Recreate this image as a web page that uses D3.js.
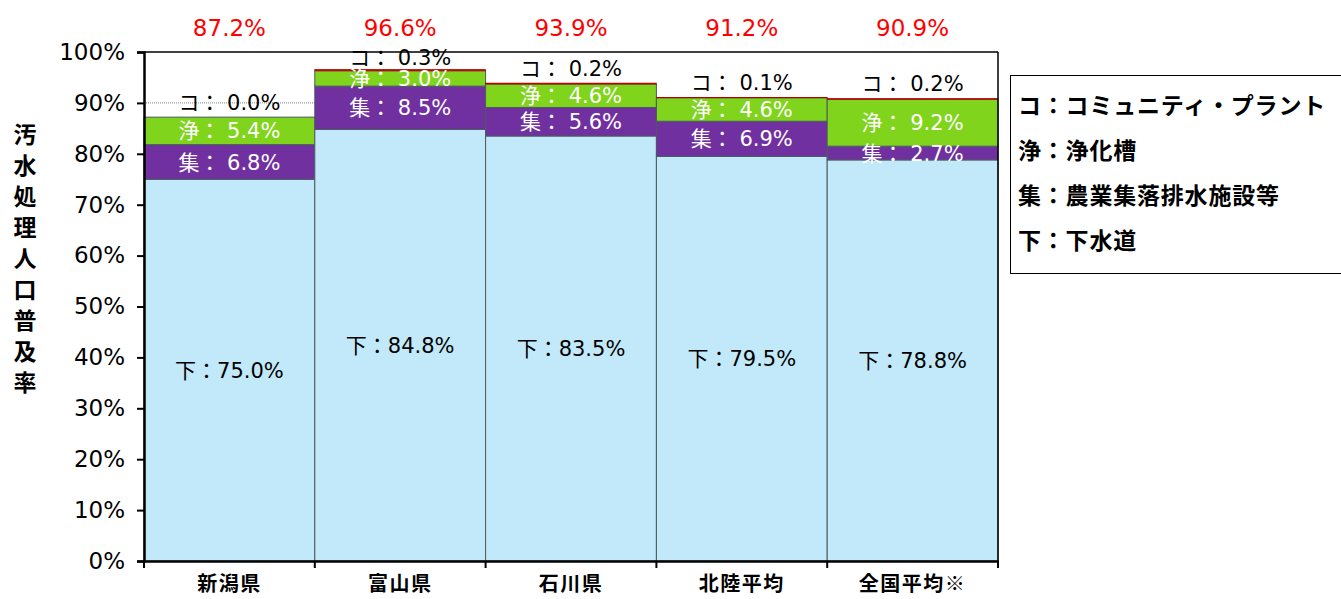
<!DOCTYPE html>
<html><head><meta charset="utf-8">
<script src="https://cdn.jsdelivr.net/npm/d3@7"></script>
<style>
html,body{margin:0;padding:0;background:#fff;}
svg{display:block;font-family:"DejaVu Sans","Noto Sans CJK JP",sans-serif;}
</style></head>
<body><svg id="c" width="1341" height="599"></svg>
<script>
const categories = ["新潟県","富山県","石川県","北陸平均","全国平均※"];
const gesui   = [75.0, 84.8, 83.5, 79.5, 78.8];   // 下
const shuraku = [6.8, 8.5, 5.6, 6.9, 2.7];        // 集
const jouka   = [5.4, 3.0, 4.6, 4.6, 9.2];        // 浄
const comm    = [0.0, 0.3, 0.2, 0.1, 0.2];        // コ
const totals  = ["87.2%","96.6%","93.9%","91.2%","90.9%"];
const yTicks  = [0,10,20,30,40,50,60,70,80,90,100];
const legendItems = ["コ：コミュニティ・プラント","浄：浄化槽","集：農業集落排水施設等","下：下水道"];
const yTitle = "汚水処理人口普及率";

const FONT = "'DejaVu Sans','Noto Sans CJK JP',sans-serif";
const CJK = "'Noto Sans CJK JP',sans-serif";
const svg = d3.select("#c");
const L = 144, R = 998, T = 52, B = 561;
const x = d3.scaleBand().domain(categories).range([L, R]).padding(0);
const y = d3.scaleLinear().domain([0, 100]).range([B, T]);

// gridlines
svg.append("g").selectAll("line").data(yTicks.filter(d => d > 0 && d < 100)).join("line")
  .attr("x1", L).attr("x2", R).attr("y1", d => y(d)).attr("y2", d => y(d))
  .attr("stroke", "#666").attr("stroke-width", 0.8).attr("stroke-dasharray", "1,1");

const series = [
  {key: "下", vals: gesui, color: "#C2E9F9", text: "#000", fmt: v => "下：" + v.toFixed(1) + "%"},
  {key: "集", vals: shuraku, color: "#7030A0", text: "#fff", fmt: v => "集： " + v.toFixed(1) + "%"},
  {key: "浄", vals: jouka, color: "#80D41B", text: "#fff", fmt: v => "浄： " + v.toFixed(1) + "%"},
  {key: "コ", vals: comm, color: "#D00000", text: "#000", fmt: v => "コ： " + v.toFixed(1) + "%"}
];
const data = categories.map((c, i) => {
  let acc = 0;
  return series.map(s => { const y0 = acc; acc += s.vals[i]; return {cat: c, s, v: s.vals[i], y0, y1: acc}; });
});

const gBars = svg.append("g");
data.forEach(segs => {
  segs.forEach(d => {
    if (d.v <= 0) return;
    gBars.append("rect")
      .attr("x", x(d.cat)).attr("width", x.bandwidth())
      .attr("y", y(d.y1)).attr("height", y(d.y0) - y(d.y1))
      .attr("fill", d.s.color)
      .attr("stroke", d.s.key === "コ" ? "#B00000" : "#4a5a60").attr("stroke-width", d.s.key === "コ" ? 0.6 : 1);
  });
});

// labels
const gLab = svg.append("g").attr("font-size", 21).attr("text-anchor", "middle").attr("font-family", FONT);
data.forEach(segs => {
  segs.forEach(d => {
    const cx = x(d.cat) + x.bandwidth() / 2;
    let cy;
    if (d.s.key === "コ") cy = Math.max(y(d.y1) - 15, y(100) + 5);
    else cy = (y(d.y0) + y(d.y1)) / 2;
    gLab.append("text").attr("x", cx).attr("y", cy).attr("dy", "0.36em")
      .attr("fill", d.s.text).text(d.s.fmt(d.v));
  });
});

// totals
svg.append("g").selectAll("text").data(categories).join("text")
  .attr("x", d => x(d) + x.bandwidth() / 2).attr("y", 28).attr("dy", "0.36em")
  .attr("text-anchor", "middle").attr("fill", "#FF0000").attr("font-size", 23).attr("font-family", FONT)
  .text((d, i) => totals[i]);

// frame top/right
svg.append("line").attr("x1", L).attr("x2", R).attr("y1", T).attr("y2", T).attr("stroke", "#000").attr("stroke-width", 1.5);
svg.append("line").attr("x1", R).attr("x2", R).attr("y1", T).attr("y2", B).attr("stroke", "#000").attr("stroke-width", 1.5);

// y axis
const yAxis = svg.append("g").attr("transform", `translate(${L},0)`)
  .call(d3.axisLeft(y).tickValues(yTicks).tickFormat(d => d + "%").tickSize(7).tickPadding(12));
yAxis.select(".domain").attr("stroke", "#000").attr("stroke-width", 2.5);
yAxis.selectAll(".tick line").attr("stroke", "#000").attr("stroke-width", 2);
yAxis.selectAll(".tick text").attr("font-size", 23).attr("fill", "#000").attr("font-family", FONT);

// x axis
const xAxis = svg.append("g").attr("transform", `translate(0,${B})`)
  .call(d3.axisBottom(x).tickSize(0).tickPadding(16));
xAxis.select(".domain").attr("stroke", "#000").attr("stroke-width", 2.5);
xAxis.selectAll(".tick text").attr("font-size", 20).attr("font-weight", "bold").attr("fill", "#000")
  .attr("letter-spacing", 1.5).attr("font-family", CJK);
// boundary ticks
const bounds = categories.map(c => x(c)).concat([R]);
svg.append("g").selectAll("line").data(bounds).join("line")
  .attr("x1", d => d).attr("x2", d => d).attr("y1", B).attr("y2", B + 7)
  .attr("stroke", "#000").attr("stroke-width", 2);

// y title
svg.append("g").selectAll("text").data(Array.from(yTitle)).join("text")
  .attr("x", 25).attr("y", (d, i) => 135 + i * 31).attr("dy", "0.36em").attr("font-family", CJK)
  .attr("text-anchor", "middle").attr("font-size", 23).attr("font-weight", "bold").text(d => d);

// legend
svg.append("rect").attr("x", 1010.5).attr("y", 75.5).attr("width", 340).attr("height", 198)
  .attr("fill", "#fff").attr("stroke", "#000").attr("stroke-width", 1);
svg.append("g").selectAll("text").data(legendItems).join("text")
  .attr("x", 1018).attr("y", (d, i) => 106 + i * 45).attr("dy", "0.36em").attr("font-family", CJK)
  .attr("font-size", 23).attr("letter-spacing", 0.8).attr("font-weight", "bold").attr("fill", "#000").text(d => d);
</script></body></html>
